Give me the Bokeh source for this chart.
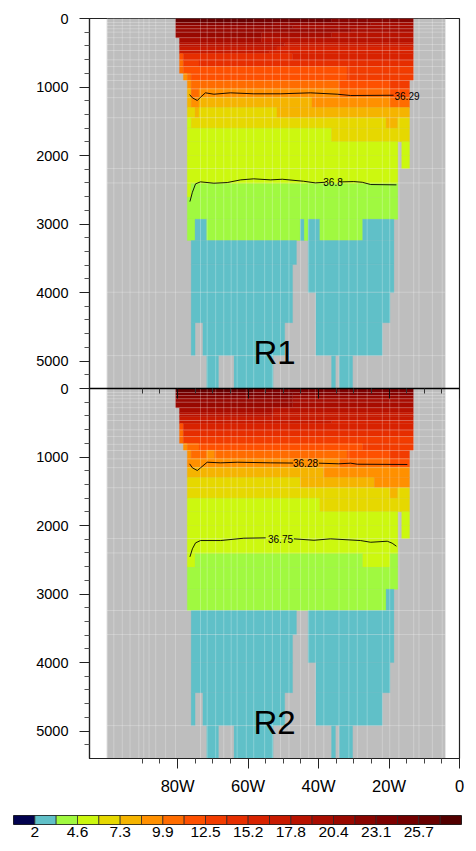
from bokeh.plotting import figure
from bokeh.layouts import column
from bokeh.models import Range1d, LinearAxis, FixedTicker, ColumnDataSource
from bokeh.core.properties import value
from bokeh.embed import file_html
from bokeh.resources import INLINE

FONT = "Liberation Sans"

# colour classes (21 boxes of the colour bar)
LEVEL_COLORS = ["#03034f", "#60c0c8", "#a0f940", "#ccf80f", "#e6d800", "#f5b400", "#ff9000",
                "#ff6c00", "#fe5000", "#f23c00", "#e62e00", "#d82200", "#c81a00", "#b81200",
                "#a80c00", "#980800", "#880400", "#7c0000", "#720000", "#680000", "#520000"]
LEVEL_TICK_POS = [1, 3, 5, 7, 9, 11, 13, 15, 17, 19]
LEVEL_TICK_TXT = ["2", "4.6", "7.3", "9.9", "12.5", "15.2", "17.8", "20.4", "23.1", "25.7"]

# model grid
LON_WEST = -80.57
LON_STEP = 1.1064
LAND_LON = (-100.1, -4.0)
PANEL_DEPTH = 5400
DEPTH_EDGES = [0, 60, 100, 150, 200, 280, 350, 410, 470, 510, 610, 700, 800, 900, 1020, 1150,
               1300, 1450, 1600, 1800, 2000, 2190, 2410, 2610, 2930, 3240, 3590, 4000, 4440,
               4920, 5400]

# one list per depth layer: (first column, end column, colour class)
R1_UPPER = [
    [(0, 20, 19), (20, 40, 18), (40, 61, 16)],
    [(0, 25, 16), (25, 50, 15), (50, 61, 14)],
    [(0, 30, 15), (30, 61, 14)],
    [(0, 45, 15), (45, 61, 14)],
    [(0, 22, 15), (22, 40, 14), (40, 61, 13)],
    [(1, 22, 14), (22, 61, 13)],
    [(1, 28, 13), (28, 61, 12)],
    [(1, 26, 12), (26, 61, 11)],
    [(1, 24, 12), (24, 61, 11)],
    [(1, 2, 8), (2, 30, 10), (30, 61, 11)],
    [(1, 2, 7), (2, 6, 9), (6, 61, 10)],
    [(1, 2, 7), (2, 44, 8), (44, 61, 9)],
    [(2, 3, 6), (3, 4, 7), (4, 44, 8), (44, 61, 9)],
    [(3, 4, 6), (4, 42, 7), (42, 55, 8), (55, 60, 9)],
    [(3, 4, 5), (4, 6, 7), (6, 42, 6), (42, 55, 7), (55, 60, 8)],
    [(3, 4, 5), (4, 6, 6), (6, 35, 5), (35, 55, 6), (55, 60, 7)],
    [(3, 5, 4), (5, 6, 5), (6, 26, 4), (26, 60, 5)],
    [(3, 4, 3), (4, 54, 4), (54, 57, 5), (57, 60, 4)],
    [(3, 40, 3), (40, 60, 4)],
    [(3, 57, 3), (58, 60, 3)],
    [(3, 57, 3), (58, 60, 3)],
    [(3, 57, 3)],
    [(3, 4, 3), (4, 57, 2)],
    [(3, 57, 2)],
    [(3, 5, 2), (5, 8, 1), (8, 32, 2), (32, 33, 1), (33, 34, 2), (34, 37, 1), (37, 48, 2), (48, 56, 1)],
]
R2_UPPER = [
    [(0, 20, 19), (20, 61, 17)],
    [(0, 30, 17), (30, 61, 16)],
    [(0, 30, 16), (30, 61, 15)],
    [(0, 30, 15), (30, 61, 14)],
    [(0, 30, 15), (30, 61, 14)],
    [(1, 25, 14), (25, 61, 13)],
    [(1, 25, 13), (25, 61, 12)],
    [(1, 61, 12)],
    [(1, 40, 12), (40, 61, 11)],
    [(1, 2, 8), (2, 61, 11)],
    [(1, 2, 7), (2, 61, 10)],
    [(1, 2, 7), (2, 61, 9)],
    [(2, 3, 6), (3, 6, 7), (6, 48, 8), (48, 61, 9)],
    [(3, 4, 6), (4, 8, 7), (8, 10, 6), (10, 44, 7), (44, 55, 8), (55, 60, 9)],
    [(3, 42, 6), (42, 55, 7), (55, 60, 8)],
    [(3, 38, 5), (38, 60, 6)],
    [(3, 32, 4), (32, 51, 5), (51, 60, 6)],
    [(3, 55, 4), (55, 57, 5), (57, 60, 4)],
    [(3, 37, 3), (37, 60, 4)],
    [(3, 57, 3), (58, 60, 3)],
    [(3, 57, 3), (58, 60, 3)],
    [(3, 57, 3)],
    [(3, 5, 3), (5, 48, 2), (48, 55, 3), (55, 57, 2)],
    [(3, 57, 2)],
    [(3, 54, 2), (54, 56, 1)],
]
DEEP_LAYERS = [
    [(4, 31, 1), (34, 56, 1)],
    [(4, 30, 1), (34, 56, 1)],
    [(4, 30, 1), (36, 55, 1)],
    [(4, 5, 1), (7, 28, 1), (36, 53, 1)],
    [(8, 11, 1), (15, 25, 1), (40, 41, 1), (42, 45.4, 1)],
]

# faint seams of the rasterised field
SEAM_LONS = [-99.9, -98.1, -95.7, -93.5, -91, -89.6, -88.1, -86.2, -83.4, -80.6, -73.5, -71.6,
             -69.2, -66.9, -64.8, -63.1, -60.5, -58.4, -55.3, -53.1, -50.8, -48.4, -45.1, -42.8,
             -40.9, -38.5, -34.2, -31.4, -29, -26.2, -21.9, -19.8, -17.2, -13, -11.5, -7.7, -4.9]
SEAM_DEPTHS_R1 = [58, 102, 150, 199, 280, 380, 467, 603, 701, 815, 905, 1027, 1155, 1448, 2190,
                  2400, 3995, 4920]
SEAM_DEPTHS_R2 = [58, 102, 150, 199, 280, 380, 467, 603, 701, 815, 905, 1027, 1155, 1448, 2190,
                  2400, 3240, 3590, 4920]

# contours (NaN = gap for the label)
NAN = float("nan")
R1_C1_LON = [-76.6, -75.8, -74.4, -73.5, -72.1, -69.7, -65, -58.4, -50.8, -42.3, -34.7, -30.9, -18.7]
R1_C1_DEP = [1110, 1158, 1197, 1149, 1085, 1105, 1085, 1099, 1099, 1085, 1105, 1124, 1120]
R1_C2_LON = [-76.5, -75.8, -74.9, -73.5, -69.7, -65.9, -62.1, -58.4, -53.6, -50.3, -44.3, -40.9, -38,
             NAN, -33.8, -30, -27.6, -25.2, -17.9]
R1_C2_DEP = [2672, 2536, 2413, 2384, 2404, 2394, 2355, 2340, 2355, 2346, 2375, 2399, 2390,
             NAN, 2385, 2380, 2390, 2423, 2428]
R2_C1_LON = [-76.6, -75.8, -74.4, -73.5, -71.6, -67.8, -63, -53.6, -47.2, NAN, -39.9, -34.3, -30.9, -29, -14.8]
R2_C1_DEP = [1099, 1158, 1197, 1158, 1076, 1085, 1076, 1085, 1088, NAN, 1090, 1099, 1090, 1105, 1109]
R2_C2_LON = [-76.5, -75.8, -74.9, -73.5, -67.8, -61.2, -55, NAN, -47, -41.3, -36.6, -28.1, -25.2, -20.5, -19.1, -17.9]
R2_C2_DEP = [2457, 2340, 2253, 2219, 2219, 2185, 2180, NAN, 2194, 2215, 2194, 2219, 2244, 2229, 2258, 2302]

CONTOUR_LABELS = [("36.29", -14.9, 1124, 0), ("36.8", -35.9, 2390, 0),
                  ("36.28", -43.7, 1090, 1), ("36.75", -50.8, 2194, 1)]
PANEL_TITLES = [("R1", -52.5, 4869, 0), ("R2", -52.5, 4869, 1)]

DEPTH_TICKS = [0, 1000, 2000, 3000, 4000, 5000]
DEPTH_MINOR = [200, 400, 600, 800, 1200, 1400, 1600, 1800, 2200, 2400, 2600, 2800, 3200, 3400, 3600,
               3800, 4200, 4400, 4600, 4800, 5200]
LON_TICKS = [-80, -60, -40, -20, 0]
LON_LABELS = ["80W", "60W", "40W", "20W", "0"]
LON_MINOR = [-90, -85, -75, -70, -65, -55, -50, -45, -35, -30, -25, -15, -10, -5]

p = figure(width=476, height=800, output_backend="svg", toolbar_location=None,
           x_range=Range1d(-105, 0), y_range=Range1d(2 * PANEL_DEPTH, 0),
           x_axis_location=None, y_axis_location=None, frame_align=False,
           min_border_left=89, min_border_right=17, min_border_top=18, min_border_bottom=42)
p.grid.visible = False
p.outline_line_color = "#222222"
p.outline_line_width = 1.2


def lon(i):
    return LON_WEST + LON_STEP * i


cells = dict(l=[], r=[], t=[], b=[], c=[])
for panel, upper in enumerate([R1_UPPER, R2_UPPER]):
    off = panel * PANEL_DEPTH
    layers = upper + DEEP_LAYERS
    for k, runs in enumerate(layers):
        for a, b, lev in runs:
            cells["l"].append(lon(a))
            cells["r"].append(lon(b))
            cells["t"].append(DEPTH_EDGES[k] + off)
            cells["b"].append(DEPTH_EDGES[k + 1] + off)
            cells["c"].append(LEVEL_COLORS[lev])

p.quad(left=LAND_LON[0], right=LAND_LON[1], top=0, bottom=2 * PANEL_DEPTH,
       fill_color="#bebebe", line_color=None)
p.quad(left="l", right="r", top="t", bottom="b", fill_color="c", line_color="c", line_width=0.3,
       source=ColumnDataSource(cells))

# seams
sx0, sx1, sy0, sy1 = [], [], [], []
for x in SEAM_LONS:
    sx0.append(x); sx1.append(x); sy0.append(0); sy1.append(2 * PANEL_DEPTH)
for off, deps in ((0, SEAM_DEPTHS_R1), (PANEL_DEPTH, SEAM_DEPTHS_R2)):
    for d in deps:
        sx0.append(LAND_LON[0]); sx1.append(LAND_LON[1]); sy0.append(d + off); sy1.append(d + off)
p.segment(sx0, sy0, sx1, sy1, line_color="white", line_alpha=0.25, line_width=1)

# contours
for xs, ys, off in ((R1_C1_LON, R1_C1_DEP, 0), (R1_C2_LON, R1_C2_DEP, 0),
                    (R2_C1_LON, R2_C1_DEP, PANEL_DEPTH), (R2_C2_LON, R2_C2_DEP, PANEL_DEPTH)):
    p.line(xs, [y + off for y in ys], line_color="black", line_width=0.9)
for txt, x, y, pan in CONTOUR_LABELS:
    p.text([x], [y + pan * PANEL_DEPTH], text=[txt], text_align="center", text_baseline="middle",
           text_font=value(FONT), text_font_size="10px", text_color="black")
for txt, x, y, pan in PANEL_TITLES:
    p.text([x], [y + pan * PANEL_DEPTH], text=[txt], text_align="center", text_baseline="middle",
           text_font=value(FONT), text_font_size="33px", text_color="black")

# left axis: both panels on one scale, each labelled from its own surface
yt = DEPTH_TICKS + [d + PANEL_DEPTH for d in DEPTH_TICKS]
ym = DEPTH_MINOR + [d + PANEL_DEPTH for d in DEPTH_MINOR]
yax = LinearAxis(ticker=FixedTicker(ticks=yt, minor_ticks=ym))
yax.major_label_overrides = {t: str(t if t < PANEL_DEPTH else t - PANEL_DEPTH) for t in yt}
yax.major_label_text_font = FONT
yax.major_label_text_font_size = "14.5px"
yax.major_label_text_color = "black"
yax.major_label_standoff = 11
yax.major_tick_out = 10
yax.major_tick_in = 0
yax.minor_tick_out = 5
yax.minor_tick_in = 0
yax.axis_line_color = "#222222"
yax.axis_line_width = 1.2
yax.major_tick_line_color = "#222222"
yax.minor_tick_line_color = "#555555"
p.add_layout(yax, "left")

xt = FixedTicker(ticks=LON_TICKS, minor_ticks=LON_MINOR)
xax = LinearAxis(ticker=xt)
xax.major_label_overrides = dict(zip(LON_TICKS, LON_LABELS))
xax.major_label_text_font = FONT
xax.major_label_text_font_size = "16.5px"
xax.major_label_text_color = "black"
xax.major_label_standoff = 8
xax.major_tick_out = 10
xax.major_tick_in = 0
xax.minor_tick_out = 5
xax.minor_tick_in = 0
xax.axis_line_color = "#222222"
xax.axis_line_width = 1.2
xax.major_tick_line_color = "#222222"
xax.minor_tick_line_color = "#444444"
p.add_layout(xax, "below")

mid = LinearAxis(ticker=FixedTicker(ticks=LON_TICKS, minor_ticks=LON_MINOR), fixed_location=PANEL_DEPTH)
mid.major_label_text_font_size = "0px"
mid.major_label_text_color = None
mid.major_tick_out = 10
mid.major_tick_in = 0
mid.minor_tick_out = 5
mid.minor_tick_in = 0
mid.axis_line_color = "black"
mid.axis_line_width = 1.5
mid.major_tick_line_color = "#111111"
mid.minor_tick_line_color = "#333333"
p.add_layout(mid, "below")

# colour bar
n = len(LEVEL_COLORS)
cb = figure(width=476, height=51, output_backend="svg", toolbar_location=None,
            x_range=Range1d(0, n), y_range=Range1d(0, 1),
            x_axis_location=None, y_axis_location=None, frame_align=False,
            min_border_left=13, min_border_right=15, min_border_top=15, min_border_bottom=27)
cb.grid.visible = False
cb.outline_line_color = "#222222"
cb.quad(left=list(range(n)), right=list(range(1, n + 1)), top=1, bottom=0,
        fill_color=LEVEL_COLORS, line_color="#222222", line_width=0.7)
cax = LinearAxis(ticker=FixedTicker(ticks=LEVEL_TICK_POS))
cax.major_label_overrides = dict(zip(LEVEL_TICK_POS, LEVEL_TICK_TXT))
cax.major_label_text_font = FONT
cax.major_label_text_font_size = "15.5px"
cax.major_label_text_color = "black"
cax.major_label_standoff = 2
cax.major_tick_out = 0
cax.major_tick_in = 0
cax.minor_tick_out = 0
cax.minor_tick_in = 0
cax.axis_line_color = None
cb.add_layout(cax, "below")

open("out.html", "w").write(file_html(column(p, cb, spacing=0), INLINE))
